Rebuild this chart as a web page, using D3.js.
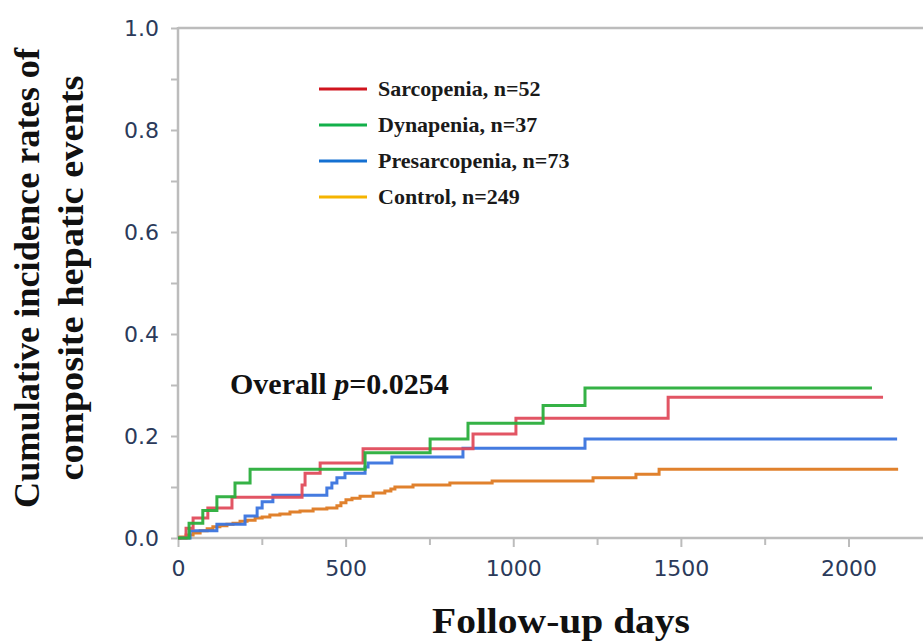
<!DOCTYPE html>
<html>
<head>
<meta charset="utf-8">
<script src="https://cdn.jsdelivr.net/npm/d3@7"></script>
<style>
  html, body { margin: 0; padding: 0; background: #ffffff; }
  svg { display: block; }
</style>
</head>
<body>
<div id="chart"></div>
<script>
// ---- Data ----
const seriesNames = ["Sarcopenia, n=52", "Dynapenia, n=37", "Presarcopenia, n=73", "Control, n=249"];
const legendColors = ["#d0141e", "#12b04a", "#1470d2", "#f5b400"];
const curveColors = ["#e04c5c", "#2aae3c", "#3a74de", "#de7a22"];

// event days and cumulative incidence after each step
const sarcopeniaDays = [24, 45, 89, 161, 370, 379, 424, 552, 880, 1008, 1462];
const sarcopeniaRates = [0.019, 0.039, 0.059, 0.080, 0.104, 0.127, 0.147, 0.175, 0.204, 0.235, 0.276];
const sarcopeniaEnd = 2103;

const dynapeniaDays = [33, 74, 116, 170, 215, 558, 752, 865, 1089, 1214];
const dynapeniaRates = [0.029, 0.054, 0.081, 0.108, 0.135, 0.167, 0.194, 0.225, 0.260, 0.294];
const dynapeniaEnd = 2070;

const presarcopeniaDays = [36, 116, 200, 236, 251, 283, 444, 459, 474, 498, 558, 567, 638, 850, 1214];
const presarcopeniaRates = [0.014, 0.027, 0.043, 0.059, 0.071, 0.084, 0.098, 0.108, 0.118, 0.127, 0.139, 0.147, 0.159, 0.176, 0.194];
const presarcopeniaEnd = 2145;

const controlDays = [6, 24, 45, 66, 87, 104, 125, 146, 164, 185, 206, 230, 251, 274, 304, 334, 364, 403, 444, 474, 486, 501, 519, 543, 582, 617, 635, 647, 701, 811, 937, 1238, 1366, 1435];
const controlRates = [0.002, 0.006, 0.010, 0.014, 0.018, 0.022, 0.024, 0.027, 0.029, 0.033, 0.035, 0.039, 0.041, 0.045, 0.047, 0.051, 0.053, 0.057, 0.059, 0.063, 0.069, 0.075, 0.078, 0.082, 0.088, 0.092, 0.096, 0.100, 0.104, 0.108, 0.112, 0.118, 0.125, 0.135];
const controlEnd = 2148;

const xTicks = [0, 500, 1000, 1500, 2000];
const xMinorTicks = [250, 750, 1250, 1750, 2250];
const yTicks = [0.0, 0.2, 0.4, 0.6, 0.8, 1.0];
const yMinorTicks = [0.1, 0.3, 0.5, 0.7, 0.9];

const yTitleLines = ["Cumulative incidence rates of", "composite hepatic events"];
const xTitle = "Follow-up days";
const pLabelPrefix = "Overall ";
const pLabelItalic = "p";
const pLabelSuffix = "=0.0254";

// ---- Build ----
const W = 923, H = 642;
const svg = d3.select("#chart").append("svg").attr("width", W).attr("height", H);

const x = d3.scaleLinear().domain([0, 2000]).range([178, 848.5]);
const y = d3.scaleLinear().domain([0, 1]).range([538, 28]);
const xMaxDomain = x.invert(W + 2);

const axisColor = "#bcbcbc";
const labelColor = "#2b3a5a";
const tickFont = "DejaVu Sans, Verdana, sans-serif";

// frame line at top
svg.append("line").attr("x1", x(0)).attr("x2", W).attr("y1", y(1)).attr("y2", y(1))
  .attr("stroke", axisColor).attr("stroke-width", 2.5);

// x axis
const xAxis = d3.axisBottom(x).tickValues(xTicks).tickFormat(d3.format("d")).tickSize(9).tickPadding(13);
const gx = svg.append("g").attr("transform", `translate(0,${y(0)})`).call(xAxis);
gx.select(".domain").remove();
gx.append("line").attr("x1", x(0)).attr("x2", W).attr("y1", 0).attr("y2", 0)
  .attr("stroke", axisColor).attr("stroke-width", 2.5);
gx.selectAll(".tick line").attr("stroke", axisColor).attr("stroke-width", 2);
gx.selectAll(".tick text").attr("fill", labelColor)
  .attr("font-family", tickFont).attr("font-size", 22);
const gxMinor = svg.append("g").attr("transform", `translate(0,${y(0)})`)
  .call(d3.axisBottom(x).tickValues(xMinorTicks.filter(d => d < xMaxDomain)).tickSize(7).tickFormat(""));
gxMinor.select(".domain").remove();
gxMinor.selectAll(".tick line").attr("stroke", axisColor).attr("stroke-width", 2);

// y axis
const yAxis = d3.axisLeft(y).tickValues(yTicks).tickFormat(d3.format(".1f")).tickSize(7).tickPadding(12);
const gy = svg.append("g").attr("transform", `translate(${x(0)},0)`).call(yAxis);
gy.select(".domain").remove();
gy.append("line").attr("x1", 0).attr("x2", 0).attr("y1", y(1) - 1).attr("y2", y(0) + 1)
  .attr("stroke", axisColor).attr("stroke-width", 2.5);
gy.selectAll(".tick line").attr("stroke", axisColor).attr("stroke-width", 2);
gy.selectAll(".tick text").attr("fill", labelColor)
  .attr("font-family", tickFont).attr("font-size", 22);
const gyMinor = svg.append("g").attr("transform", `translate(${x(0)},0)`)
  .call(d3.axisLeft(y).tickValues(yMinorTicks).tickSize(7).tickFormat(""));
gyMinor.select(".domain").remove();
gyMinor.selectAll(".tick line").attr("stroke", axisColor).attr("stroke-width", 2);

// curves
const seriesData = [
  { days: sarcopeniaDays, rates: sarcopeniaRates, end: sarcopeniaEnd },
  { days: dynapeniaDays, rates: dynapeniaRates, end: dynapeniaEnd },
  { days: presarcopeniaDays, rates: presarcopeniaRates, end: presarcopeniaEnd },
  { days: controlDays, rates: controlRates, end: controlEnd }
];
const line = d3.line().x(d => x(d[0])).y(d => y(d[1])).curve(d3.curveStepAfter);
const drawOrder = [3, 2, 0, 1];
drawOrder.forEach(i => {
  const s = seriesData[i];
  const pts = [[0, 0]].concat(s.days.map((d, k) => [d, s.rates[k]]));
  pts.push([s.end, s.rates[s.rates.length - 1]]);
  svg.append("path").datum(pts).attr("d", line)
    .attr("fill", "none").attr("stroke", curveColors[i]).attr("stroke-width", 3)
    .attr("stroke-linejoin", "miter").attr("stroke-opacity", 0.95);
});

// legend
const legend = svg.append("g");
seriesNames.forEach((name, i) => {
  const cy = 89 + i * 36;
  legend.append("line").attr("x1", 319).attr("x2", 367).attr("y1", cy).attr("y2", cy)
    .attr("stroke", legendColors[i]).attr("stroke-width", 3);
  legend.append("text").attr("x", 378).attr("y", cy + 7)
    .attr("font-family", "Liberation Serif, Times New Roman, serif").attr("font-weight", "bold")
    .attr("font-size", 22).attr("fill", "#1a1a1a").text(name);
});

// p-value annotation
const pText = svg.append("text").attr("x", 230).attr("y", 394)
  .attr("font-family", "Liberation Serif, Times New Roman, serif").attr("font-weight", "bold")
  .attr("font-size", 30).attr("fill", "#111");
pText.append("tspan").text(pLabelPrefix);
pText.append("tspan").attr("font-style", "italic").text(pLabelItalic);
pText.append("tspan").text(pLabelSuffix);

// x title
svg.append("text").attr("x", 561).attr("y", 633).attr("text-anchor", "middle")
  .attr("font-family", "Liberation Serif, Times New Roman, serif").attr("font-weight", "bold")
  .attr("font-size", 36).attr("fill", "#111")
  .attr("textLength", 258).attr("lengthAdjust", "spacingAndGlyphs").text(xTitle);

// y title (two rotated lines)
const yTitleX = [39, 83];
const yTitleLen = [460, 405];
yTitleLines.forEach((t, i) => {
  svg.append("text").attr("transform", `translate(${yTitleX[i]},${278}) rotate(-90)`)
    .attr("text-anchor", "middle")
    .attr("font-family", "Liberation Serif, Times New Roman, serif").attr("font-weight", "bold")
    .attr("font-size", 35).attr("fill", "#111")
    .attr("textLength", yTitleLen[i]).attr("lengthAdjust", "spacingAndGlyphs").text(t);
});
</script>
</body>
</html>
